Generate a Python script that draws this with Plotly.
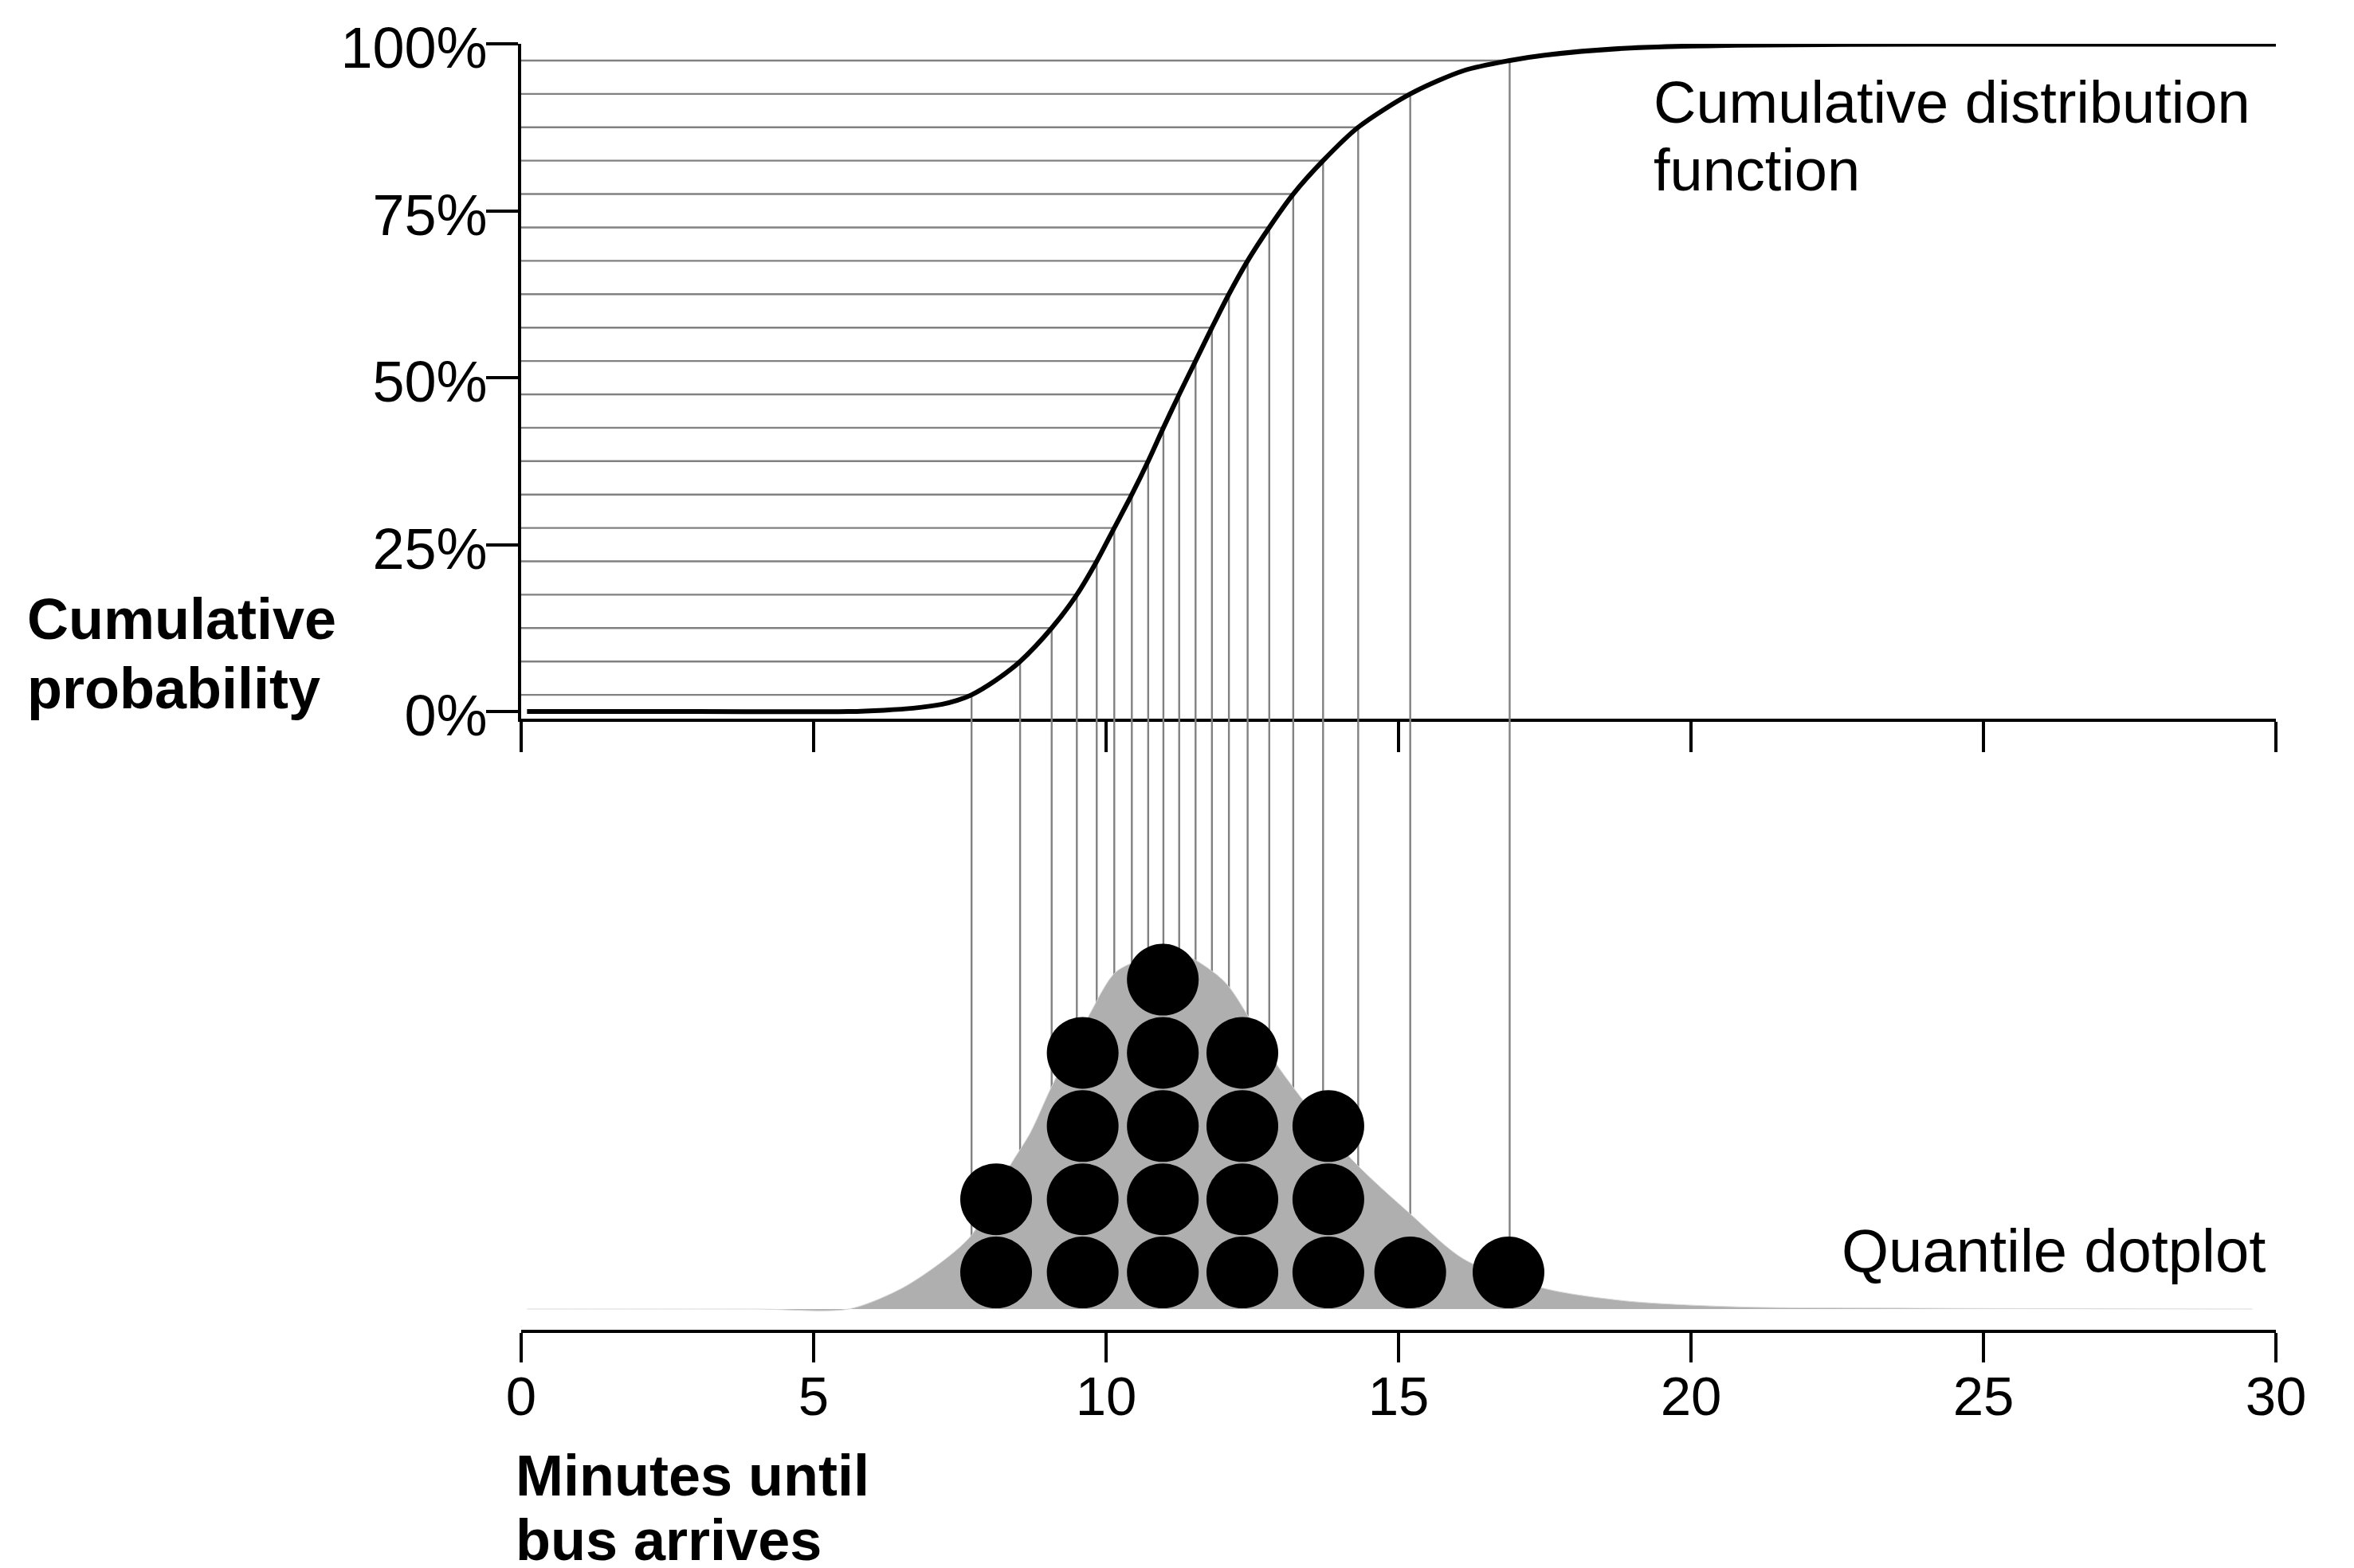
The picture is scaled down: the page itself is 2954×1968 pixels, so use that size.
import plotly.graph_objects as go

# 20 quantiles of the waiting-time distribution (minutes) and their levels
QUANTILE_MIN = [7.70, 8.53, 9.07, 9.50, 9.84, 10.14, 10.44, 10.72, 10.98, 11.25,
                11.53, 11.81, 12.10, 12.42, 12.79, 13.20, 13.71, 14.31, 15.20, 16.90]
QUANTILE_P = [0.025, 0.075, 0.125, 0.175, 0.225, 0.275, 0.325, 0.375, 0.425, 0.475,
              0.525, 0.575, 0.625, 0.675, 0.725, 0.775, 0.825, 0.875, 0.925, 0.975]

# cumulative distribution curve
CDF_MIN = [0.1, 3.0, 5.6, 6.2, 6.7, 7.2, 7.45, 7.70, 8.1, 8.53, 9.07, 9.50, 9.84, 10.14,
           10.44, 10.72, 10.98, 11.25, 11.53, 11.81, 12.10, 12.42, 12.79, 13.20, 13.71,
           14.31, 15.20, 16.12, 16.90, 17.5, 18.9, 20.8, 24.0, 30.0]
CDF_P = [0.0, 0.0, 0.0, 0.002, 0.005, 0.011, 0.0165, 0.025, 0.046, 0.075, 0.125, 0.175,
         0.225, 0.275, 0.325, 0.375, 0.425, 0.475, 0.525, 0.575, 0.625, 0.675, 0.725,
         0.775, 0.825, 0.875, 0.925, 0.960, 0.975, 0.983, 0.9935, 0.998, 0.9995, 0.9995]

# density behind the dots, height in dot diameters
DENSITY_MIN = [0.1, 4.0, 5.6, 6.5, 7.2, 7.7, 8.35, 8.7, 9.07, 9.7, 10.16, 10.7, 11.2,
               11.4, 12.04, 12.96, 14.17, 15.2, 16.12, 17.5, 18.9, 20.8, 24.0, 29.6]
DENSITY_H = [0.0, 0.0, 0.0, 0.28, 0.65, 1.01, 1.95, 2.4, 3.04, 4.0, 4.6, 4.8, 4.84,
             4.82, 4.46, 3.29, 2.07, 1.3, 0.68, 0.28, 0.11, 0.03, 0.01, 0.0]

# quantile dotplot: column positions (minutes) and number of stacked dots
DOT_COL_MIN = [8.12, 9.60, 10.97, 12.33, 13.80, 15.20, 16.88]
DOT_COL_COUNT = [2, 4, 5, 4, 3, 1, 1]

X_TICKS = [0, 5, 10, 15, 20, 25, 30]
Y_TICKS = [0, 0.25, 0.5, 0.75, 1.0]
Y_TICK_TEXT = ["0%", "25%", "50%", "75%", "100%"]

FONT = "Liberation Sans, Arial, Helvetica, sans-serif"
GUIDE = "#818181"
TOP_RANGE = [-0.0107, 1.0]
BOT_RANGE = [-0.283, 8.065]
SPLIT = 0.4752

fig = go.Figure()

# horizontal guides from the y axis to the curve
hx, hy = [], []
for q, p in zip(QUANTILE_MIN, QUANTILE_P):
    hx += [0, q, None]
    hy += [p, p, None]
fig.add_trace(go.Scatter(x=hx, y=hy, mode="lines", line=dict(color=GUIDE, width=2.4),
                         xaxis="x", yaxis="y", hoverinfo="skip"))

# vertical guides, split over the two panels
vx, vy = [], []
for q, p in zip(QUANTILE_MIN, QUANTILE_P):
    vx += [q, q, None]
    vy += [p, TOP_RANGE[0], None]
fig.add_trace(go.Scatter(x=vx, y=vy, mode="lines", line=dict(color=GUIDE, width=2.4),
                         xaxis="x", yaxis="y", hoverinfo="skip"))

fig.add_trace(go.Scatter(x=CDF_MIN, y=CDF_P, mode="lines",
                         line=dict(color="black", width=6, shape="spline", smoothing=0.8),
                         xaxis="x", yaxis="y"))

bx, by = [], []
for q in QUANTILE_MIN:
    bx += [q, q, None]
    by += [BOT_RANGE[1], 0, None]
fig.add_trace(go.Scatter(x=bx, y=by, mode="lines", line=dict(color=GUIDE, width=2.4),
                         xaxis="x2", yaxis="y2", hoverinfo="skip"))

fig.add_trace(go.Scatter(x=DENSITY_MIN, y=DENSITY_H, mode="lines", fill="tozeroy",
                         fillcolor="#afafaf",
                         line=dict(color="#d8d8d8", width=1, shape="spline", smoothing=0.8),
                         xaxis="x2", yaxis="y2"))

dx, dy = [], []
for xc, n in zip(DOT_COL_MIN, DOT_COL_COUNT):
    for k in range(n):
        dx.append(xc)
        dy.append(k + 0.5)
fig.add_trace(go.Scatter(x=dx, y=dy, mode="markers",
                         marker=dict(color="black", size=90, line=dict(width=0)),
                         xaxis="x2", yaxis="y2"))

axis_common = dict(showgrid=False, zeroline=False, showline=True, linecolor="black",
                   linewidth=4, ticks="outside", tickcolor="black", tickwidth=4)

# the page puts the figure 8px in from the top-left corner, so the figure is 8px smaller
fig.update_layout(
    width=2946, height=1960,
    margin=dict(l=646, r=98, t=45, b=299, pad=0),
    paper_bgcolor="white", plot_bgcolor="white",
    showlegend=False,
    font=dict(family=FONT, color="black"),
    xaxis=dict(domain=[0, 1], anchor="y", range=[0, 30], tickvals=X_TICKS,
               showticklabels=False, ticklen=38, **axis_common),
    yaxis=dict(domain=[SPLIT, 1], anchor="x", range=TOP_RANGE, tickvals=Y_TICKS,
               ticktext=Y_TICK_TEXT, ticklen=40, ticklabelstandoff=-16, ticklabelshift=5,
               tickfont=dict(family=FONT, size=72, color="black"), **axis_common),
    xaxis2=dict(domain=[0, 1], anchor="y2", range=[0, 30], matches="x", tickvals=X_TICKS,
                ticklen=37, ticklabelstandoff=-17,
                tickfont=dict(family=FONT, size=69, color="black"), **axis_common),
    yaxis2=dict(domain=[0, SPLIT], anchor="x2", range=BOT_RANGE, visible=False),
)


def label(text, x, y, size, anchor="left", bold=False, xref="paper"):
    if bold:
        text = "<b>" + text + "</b>"
    fig.add_annotation(text=text, xref=xref, yref="paper", x=x, y=y,
                       xanchor=anchor, yanchor="middle", showarrow=False,
                       font=dict(family=FONT, size=size, color="black"))


label("Cumulative distribution", 19.33, 0.9545, 74, xref="x")
label("function", 19.33, 0.9015, 74, xref="x")
label("Quantile dotplot", 29.85, 0.0619, 76, anchor="right", xref="x")
label("Cumulative", -0.2825, 0.5526, 72, bold=True)
label("probability", -0.2825, 0.4988, 72, bold=True)
label("Minutes until", -0.004, -0.1132, 72, bold=True)
label("bus arrives", -0.004, -0.1635, 72, bold=True)

fig.write_html("out.html")
